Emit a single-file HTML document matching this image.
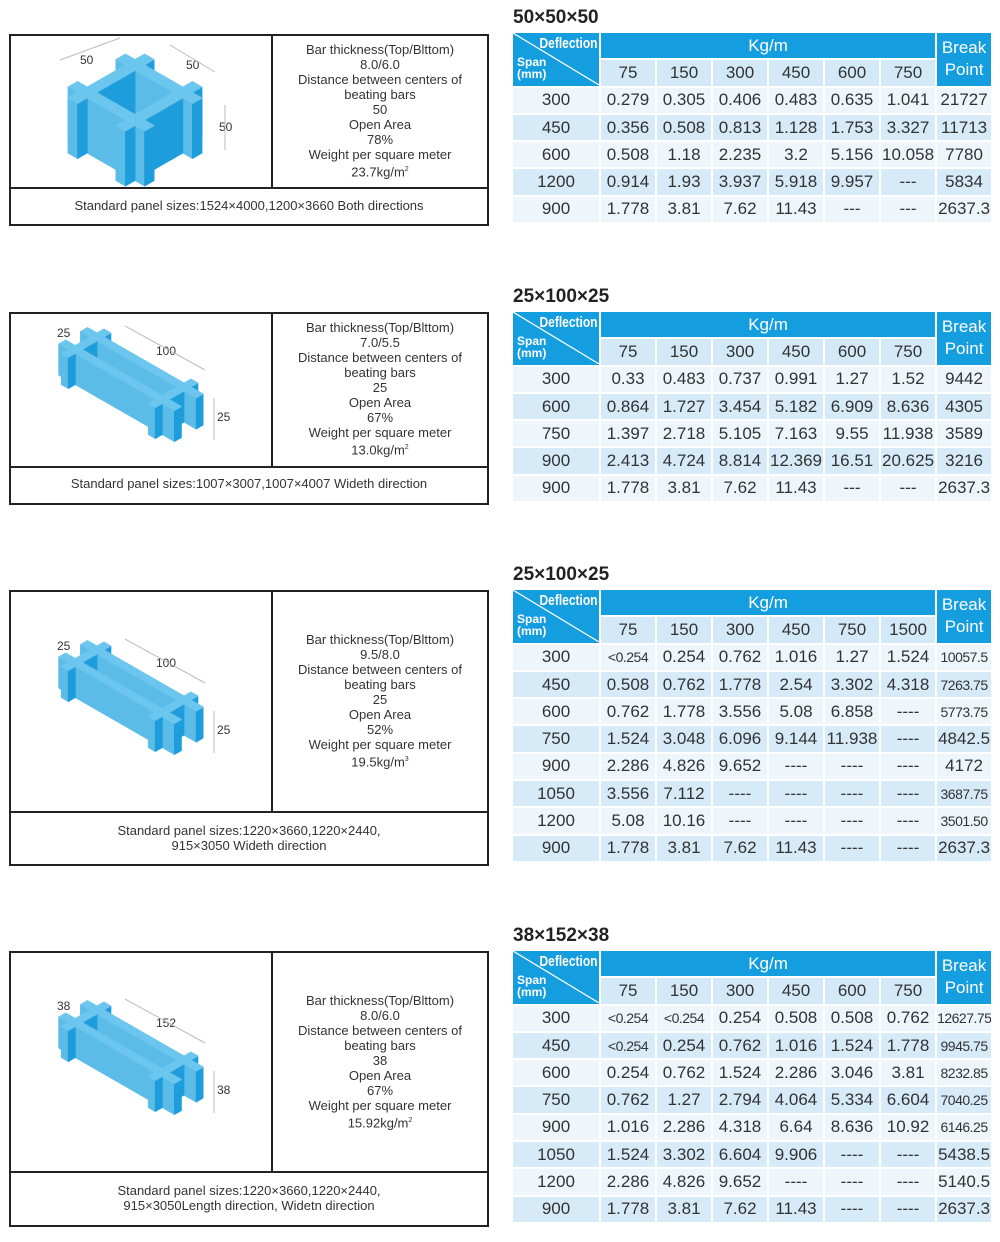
<!DOCTYPE html>
<html><head><meta charset="utf-8"><style>
body{margin:0;width:1000px;height:1242px;background:#fff;position:relative;font-family:"Liberation Sans",sans-serif;color:#333;overflow:hidden}
.title{position:absolute;left:513px;font-weight:bold;font-size:19px;color:#222}
table.t{position:absolute;left:511px;width:482px;border-collapse:separate;border-spacing:2px;table-layout:fixed}
table.t td{height:25.3px;padding:0;text-align:center;font-size:17px;white-space:nowrap;overflow:hidden}
.hb{background:#149ddf;color:#fff;font-size:19px}
.hs{background:#d3e9f7}
tr.a td{background:#eef6fc}
tr.b td{background:#d6eaf7}
.sm{font-size:14px!important;letter-spacing:-0.5px}
.diag{background:#149ddf;position:relative;color:#fff}
.box{position:absolute;left:9px;width:476px;border:2px solid #222}
.vline{position:absolute;left:271px;width:2px;background:#222}
.hline{position:absolute;left:9px;width:480px;height:2px;background:#222}
.info{position:absolute;left:273px;width:214px;text-align:center;font-size:13px;line-height:15px;color:#333}
.std{position:absolute;left:11px;width:476px;text-align:center;font-size:13px;line-height:15px;color:#333}
svg{position:absolute;left:0;top:0}
</style></head><body>
<svg id="g" width="1000" height="1242"></svg>

<div class="box" style="top:34px;height:188px"></div>
<div class="vline" style="top:34px;height:153px"></div>
<div class="hline" style="top:187px"></div>
<div class="info" style="top:42px">Bar thickness(Top/Blttom)<br>8.0/6.0<br>Distance between centers of<br>beating bars<br>50<br>Open Area<br>78%<br>Weight per square meter<br>23.7kg/m<sup style="font-size:7px">2</sup></div>
<div class="std" style="top:198px">Standard panel sizes:1524×4000,1200×3660 Both directions</div>

<div class="box" style="top:312px;height:189px"></div>
<div class="vline" style="top:312px;height:154px"></div>
<div class="hline" style="top:466px"></div>
<div class="info" style="top:320px">Bar thickness(Top/Blttom)<br>7.0/5.5<br>Distance between centers of<br>beating bars<br>25<br>Open Area<br>67%<br>Weight per square meter<br>13.0kg/m<sup style="font-size:7px">2</sup></div>
<div class="std" style="top:476px">Standard panel sizes:1007×3007,1007×4007 Wideth direction</div>

<div class="box" style="top:590px;height:272px"></div>
<div class="vline" style="top:590px;height:221px"></div>
<div class="hline" style="top:811px"></div>
<div class="info" style="top:632px">Bar thickness(Top/Blttom)<br>9.5/8.0<br>Distance between centers of<br>beating bars<br>25<br>Open Area<br>52%<br>Weight per square meter<br>19.5kg/m<sup style="font-size:7px">3</sup></div>
<div class="std" style="top:823px">Standard panel sizes:1220×3660,1220×2440,<br>915×3050 Wideth direction</div>

<div class="box" style="top:951px;height:272px"></div>
<div class="vline" style="top:951px;height:220px"></div>
<div class="hline" style="top:1171px"></div>
<div class="info" style="top:993px">Bar thickness(Top/Blttom)<br>8.0/6.0<br>Distance between centers of<br>beating bars<br>38<br>Open Area<br>67%<br>Weight per square meter<br>15.92kg/m<sup style="font-size:7px">2</sup></div>
<div class="std" style="top:1183px">Standard panel sizes:1220×3660,1220×2440,<br>915×3050Length direction, Widetn direction</div>

<div id="tables"></div>

<script>
var NS="http://www.w3.org/2000/svg",g=document.getElementById('g');
function poly(pts,fill){var p=document.createElementNS(NS,'polygon');p.setAttribute('points',pts.map(function(q){return q[0].toFixed(1)+','+q[1].toFixed(1)}).join(' '));p.setAttribute('fill',fill);p.setAttribute('stroke',fill);p.setAttribute('stroke-width','0.8');p.setAttribute('stroke-linejoin','round');g.appendChild(p);}
function txt(x,y,s){var t=document.createElementNS(NS,'text');t.setAttribute('x',x);t.setAttribute('y',y);t.setAttribute('font-size','12');t.setAttribute('font-family','Liberation Sans, sans-serif');t.setAttribute('fill','#333');t.textContent=s;g.appendChild(t);}
function line(x1,y1,x2,y2){var l=document.createElementNS(NS,'line');l.setAttribute('x1',x1);l.setAttribute('y1',y1);l.setAttribute('x2',x2);l.setAttribute('y2',y2);l.setAttribute('stroke','#bbb');l.setAttribute('stroke-width','1');g.appendChild(l);}
function scene(ox,oy,k,bars){
 var c=0.87*k,s=0.5*k;
 function P(x,y,z){return [ox+(x-y)*c,oy+(x+y)*s-z*k];}
 var boxes=[],step=2;
 bars.forEach(function(b){
  if(b[1]-b[0]>b[3]-b[2]){for(var x=b[0];x<b[1];x+=step){var e=Math.min(x+step,b[1]);boxes.push([x,e,b[2],b[3],b[4],e>=b[1],true]);}}
  else{for(var y=b[2];y<b[3];y+=step){var e=Math.min(y+step,b[3]);boxes.push([b[0],b[1],y,e,b[4],true,e>=b[3]]);}}
 });
 boxes.sort(function(a,b){return (a[0]+a[1]+a[2]+a[3])-(b[0]+b[1]+b[2]+b[3]);});
 boxes.forEach(function(b){var x0=b[0],x1=b[1],y0=b[2],y1=b[3],z0=0,z1=b[4];
  if(b[6])poly([P(x0,y1,z0),P(x1,y1,z0),P(x1,y1,z1),P(x0,y1,z1)],'#5cbce8');
  if(b[5])poly([P(x1,y0,z0),P(x1,y1,z0),P(x1,y1,z1),P(x1,y0,z1)],'#1e9ddc');
  poly([P(x0,y0,z1),P(x1,y0,z1),P(x1,y1,z1),P(x0,y1,z1)],'#6cc6ee');
 });
}
scene(135,120,1.1,[[-15,65,-5,5,50],[-15,65,45,55,50],[-5,5,-15,65,50],[45,55,-15,65,50]]);
txt(80,64,'50');txt(186,69,'50');txt(219,131,'50');line(225,105,225,150);line(60,60,120,38);line(170,45,215,72);
function long(oy){scene(97,oy,1.0,[[-15,118,-4,4,31],[-15,118,21,29,31],[-4,4,-12,37,31],[96,104,-12,37,31]]);}
long(368);txt(57,337,'25');txt(156,355,'100');txt(217,421,'25');line(214,398,214,440);line(125,326,205,370);
long(681);txt(57,650,'25');txt(156,667,'100');txt(217,734,'25');line(214,711,214,753);line(125,639,205,683);
long(1041);txt(57,1010,'38');txt(156,1027,'152');txt(217,1094,'38');line(214,1071,214,1113);line(125,999,205,1043);

function table(top,title,cols,rows){
 var h='<div class="title" style="top:'+(top-26)+'px">'+title+'</div>';
 h+='<table class="t" style="top:'+(top-2)+'px"><colgroup><col style="width:86px">';
 for(var i=0;i<7;i++)h+='<col style="width:54px">';
 h+='</colgroup><tr><td rowspan="2" class="diag"><svg width="86" height="52" style="position:absolute;left:0;top:0"><line x1="0" y1="0" x2="86" y2="52" stroke="#fff" stroke-width="1.2"/></svg><div style="position:absolute;right:1px;top:2px;font-weight:bold;font-size:15px;transform:scaleX(0.8);transform-origin:right">Deflection</div><div style="position:absolute;left:4px;top:23px;font-weight:bold;font-size:12px;line-height:12px;text-align:left">Span<br>(mm)</div></td><td colspan="6" class="hb">Kg/m</td><td rowspan="2" class="hb" style="line-height:22px">Break<br>Point</td></tr><tr>';
 cols.forEach(function(c){h+='<td class="hs">'+c+'</td>';});
 h+='</tr>';
 rows.forEach(function(r,i){h+='<tr class="'+(i%2?'b':'a')+'">';r.forEach(function(v){var sm=(v.indexOf('<')==0)||(v.length>=7&&v.indexOf('.')>0&&!/^\d\.\d+$/.test(v)&&v!='20.625'&&v!='10.058');h+='<td'+(sm?' class="sm"':'')+'>'+v.replace('<','&lt;')+'</td>';});h+='</tr>';});
 return h+'</table>';
}
var T='';
T+=table(33,'50×50×50',['75','150','300','450','600','750'],[
['300','0.279','0.305','0.406','0.483','0.635','1.041','21727'],
['450','0.356','0.508','0.813','1.128','1.753','3.327','11713'],
['600','0.508','1.18','2.235','3.2','5.156','10.058','7780'],
['1200','0.914','1.93','3.937','5.918','9.957','---','5834'],
['900','1.778','3.81','7.62','11.43','---','---','2637.3']]);
T+=table(312,'25×100×25',['75','150','300','450','600','750'],[
['300','0.33','0.483','0.737','0.991','1.27','1.52','9442'],
['600','0.864','1.727','3.454','5.182','6.909','8.636','4305'],
['750','1.397','2.718','5.105','7.163','9.55','11.938','3589'],
['900','2.413','4.724','8.814','12.369','16.51','20.625','3216'],
['900','1.778','3.81','7.62','11.43','---','---','2637.3']]);
T+=table(590,'25×100×25',['75','150','300','450','750','1500'],[
['300','<0.254','0.254','0.762','1.016','1.27','1.524','10057.5'],
['450','0.508','0.762','1.778','2.54','3.302','4.318','7263.75'],
['600','0.762','1.778','3.556','5.08','6.858','----','5773.75'],
['750','1.524','3.048','6.096','9.144','11.938','----','4842.5'],
['900','2.286','4.826','9.652','----','----','----','4172'],
['1050','3.556','7.112','----','----','----','----','3687.75'],
['1200','5.08','10.16','----','----','----','----','3501.50'],
['900','1.778','3.81','7.62','11.43','----','----','2637.3']]);
T+=table(951,'38×152×38',['75','150','300','450','600','750'],[
['300','<0.254','<0.254','0.254','0.508','0.508','0.762','12627.75'],
['450','<0.254','0.254','0.762','1.016','1.524','1.778','9945.75'],
['600','0.254','0.762','1.524','2.286','3.046','3.81','8232.85'],
['750','0.762','1.27','2.794','4.064','5.334','6.604','7040.25'],
['900','1.016','2.286','4.318','6.64','8.636','10.92','6146.25'],
['1050','1.524','3.302','6.604','9.906','----','----','5438.5'],
['1200','2.286','4.826','9.652','----','----','----','5140.5'],
['900','1.778','3.81','7.62','11.43','----','----','2637.3']]);
document.getElementById('tables').innerHTML=T;
</script>
</body></html>
